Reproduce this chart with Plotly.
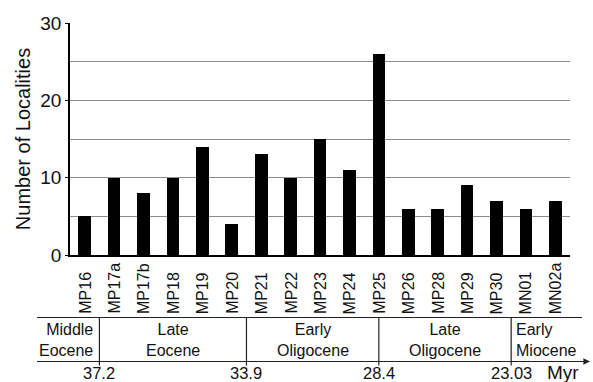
import plotly.graph_objects as go

# Mammal-zone stages and number of fossil localities per stage
stages = ["MP16", "MP17a", "MP17b", "MP18", "MP19", "MP20", "MP21", "MP22",
          "MP23", "MP24", "MP25", "MP26", "MP28", "MP29", "MP30", "MN01", "MN02a"]
localities = [5, 10, 8, 10, 14, 4, 13, 10, 15, 11, 26, 6, 6, 9, 7, 6, 7]

# Epochs shown in the timescale band below the stage labels
epoch_names = ["Middle<br>Eocene", "Late<br>Eocene", "Early<br>Oligocene",
               "Late<br>Oligocene", "Early<br>Miocene"]
boundary_ages = ["37.2", "33.9", "28.4", "23.03"]
# Where each epoch boundary falls along the stage sequence (stage index units)
boundary_pos = [0.5, 5.5, 10.0, 14.5]

FONT = "Liberation Sans, Arial, sans-serif"
INK = "#111111"
GRID = "#8c8c8c"

W, H = 593, 382
ML, MR, MT, MB = 70, 23, 23, 127
PW, PH = W - ML - MR, H - MT - MB
N = len(stages)


def px_x(p):
    """Pixel column -> paper x."""
    return (p - ML) / PW


def px_y(p):
    """Pixel row -> paper y."""
    return (H - MB - p) / PH


def stage_x(i):
    """Stage index -> paper x (category axis spans -0.5 .. N-0.5)."""
    return (i + 0.5) / N


fig = go.Figure(
    go.Bar(
        x=list(range(N)),
        y=localities,
        marker=dict(color="#000000", line=dict(width=0)),
        width=0.43,
        hoverinfo="skip",
    )
)

fig.update_layout(
    width=W,
    height=H,
    margin=dict(l=ML, r=MR, t=MT, b=MB, autoexpand=False),
    paper_bgcolor="white",
    plot_bgcolor="white",
    showlegend=False,
    font=dict(family=FONT, color=INK),
    bargap=0,
)

fig.update_xaxes(
    range=[-0.5, N - 0.5],
    showticklabels=False,
    ticks="",
    showgrid=False,
    zeroline=False,
    showline=True,
    linecolor="#000000",
    linewidth=1.5,
    fixedrange=True,
)

fig.update_yaxes(
    range=[0, 30],
    tickvals=[0, 10, 20, 30],
    ticks="outside",
    ticklen=3,
    tickcolor="#000000",
    tickfont=dict(size=19, family=FONT, color=INK),
    showgrid=True,
    gridcolor=GRID,
    gridwidth=1,
    minor=dict(tickvals=[5, 15, 25], showgrid=True, gridcolor=GRID, gridwidth=1, ticks=""),
    zeroline=False,
    showline=True,
    linecolor="#000000",
    linewidth=1.5,
    title=dict(text="Number of Localities", font=dict(size=20, family=FONT, color=INK), standoff=4),
    automargin=False,
    fixedrange=True,
)

annotations = []
shapes = []

# Stage names, rotated and aligned on a common baseline below the axis
for i, name in enumerate(stages):
    annotations.append(dict(
        x=i, xref="x", y=px_y(314), yref="paper",
        text=name, textangle=-90, showarrow=False,
        xanchor="center", yanchor="bottom",
        font=dict(size=16, family=FONT, color=INK),
        borderpad=0, borderwidth=0,
    ))

# Timescale band: top rule, bottom rule with arrow, epoch dividers
band_top, band_bot = 317.5, 361.5
left_edge, right_top, right_arrow = 37, 582, 590
shapes.append(dict(type="line", xref="paper", yref="paper",
                   x0=px_x(left_edge), x1=px_x(right_top), y0=px_y(band_top), y1=px_y(band_top),
                   line=dict(color="#222222", width=1.2)))
shapes.append(dict(type="line", xref="paper", yref="paper",
                   x0=px_x(left_edge), x1=px_x(right_arrow - 4), y0=px_y(band_bot), y1=px_y(band_bot),
                   line=dict(color="#222222", width=1.2)))
annotations.append(dict(
    x=px_x(right_arrow), y=px_y(band_bot), xref="paper", yref="paper",
    ax=-12, ay=0, text="", showarrow=True,
    arrowhead=2, arrowsize=1.1, arrowwidth=1.2, arrowcolor="#222222",
))
for b in boundary_pos:
    shapes.append(dict(type="line", xref="paper", yref="paper",
                       x0=stage_x(b), x1=stage_x(b), y0=px_y(band_top), y1=px_y(band_bot + 4),
                       line=dict(color="#222222", width=1.2)))

# Epoch names
edges = [None] + boundary_pos + [None]
for k, name in enumerate(epoch_names):
    lo, hi = edges[k], edges[k + 1]
    if lo is None:
        x, xa, al = stage_x(hi) - 6 / PW, "right", "right"
    elif hi is None:
        x, xa, al = stage_x(lo) + 5 / PW, "left", "left"
    else:
        x, xa, al = (stage_x(lo) + stage_x(hi)) / 2, "center", "center"
    annotations.append(dict(
        x=x, y=px_y(340), xref="paper", yref="paper",
        text=name, showarrow=False, xanchor=xa, yanchor="middle", align=al,
        font=dict(size=16, family=FONT, color=INK),
        borderpad=0, borderwidth=0,
    ))

# Boundary ages in Myr
for b, age in zip(boundary_pos, boundary_ages):
    annotations.append(dict(
        x=stage_x(b), y=px_y(372.5), xref="paper", yref="paper",
        text=age, showarrow=False, xanchor="center", yanchor="middle",
        font=dict(size=16.5, family=FONT, color=INK),
        borderpad=0, borderwidth=0,
    ))
annotations.append(dict(
    x=px_x(547), y=px_y(372), xref="paper", yref="paper",
    text="Myr", showarrow=False, xanchor="left", yanchor="middle",
    font=dict(size=19, family=FONT, color=INK),
    borderpad=0, borderwidth=0,
))

fig.update_layout(annotations=annotations, shapes=shapes)

fig.write_html("out.html")
